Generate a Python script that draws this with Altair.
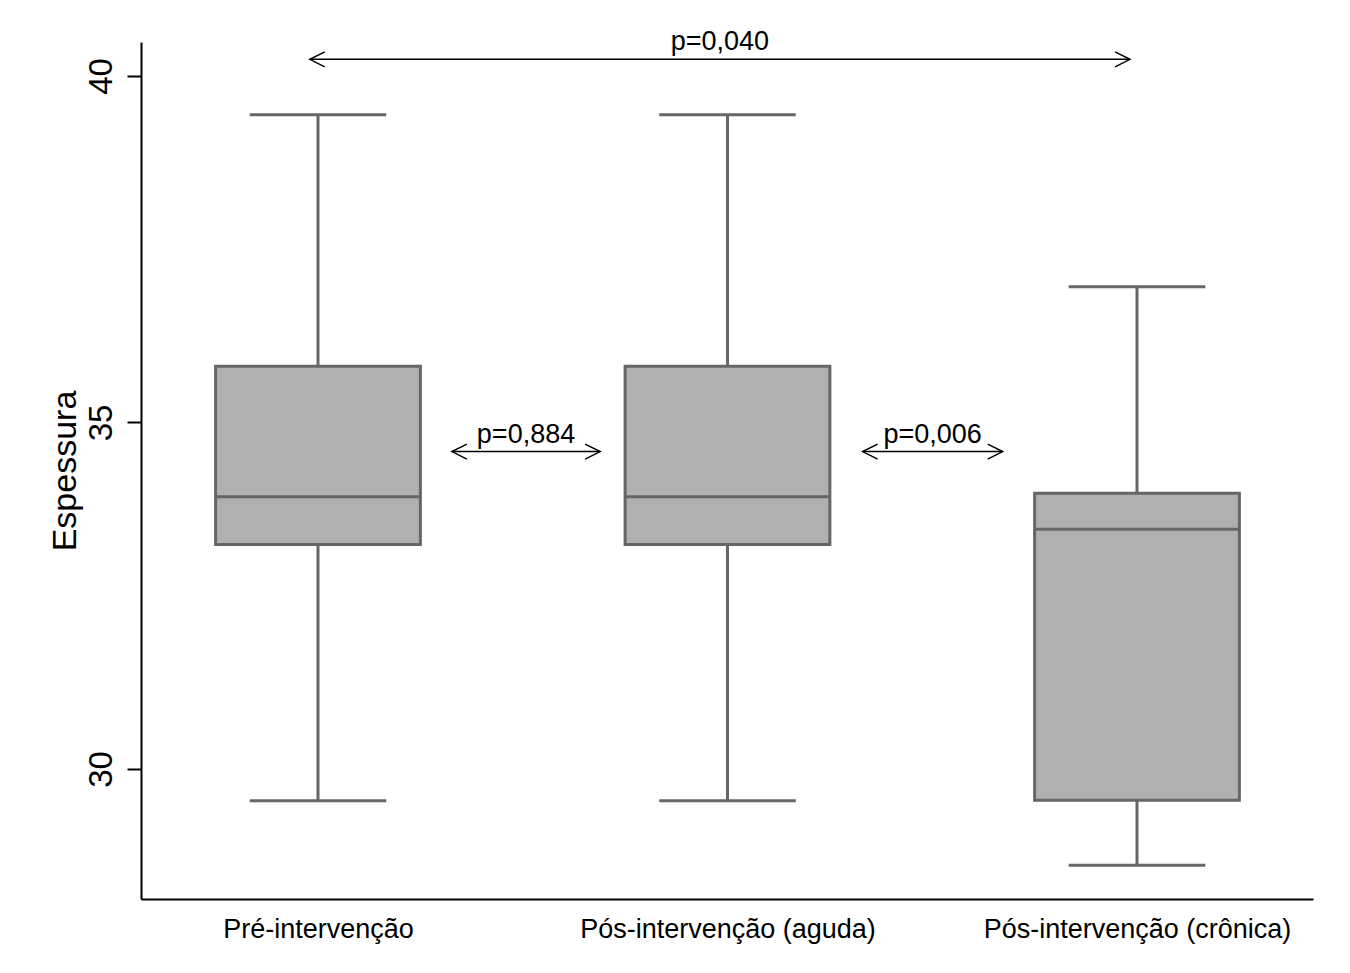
import json
import altair as alt
import pandas as pd

# ---- data ----
categories = ["Pré-intervenção", "Pós-intervenção (aguda)", "Pós-intervenção (crônica)"]
positions = [1, 2, 3]
whisker_low = [29.54, 29.54, 28.61]
q1 = [33.24, 33.24, 29.55]
median = [33.93, 33.93, 33.46]
q3 = [35.81, 35.81, 33.98]
whisker_high = [39.44, 39.44, 36.96]

comp_start = [0.98, 1.327, 2.33]
comp_end = [2.983, 1.689, 2.672]
comp_y = [40.24, 34.58, 34.58]
comp_label = ["p=0,040", "p=0,884", "p=0,006"]

y_ticks = [30, 35, 40]

# ---- styling ----
BOX_HALF = 0.25
CAP_HALF = 0.1667
FONT = "Liberation Sans"
BOX_FILL = "#b0b0b0"
BOX_STROKE = "#666666"

df = pd.DataFrame({
    "cat": categories, "pos": positions, "lo": whisker_low, "q1": q1,
    "med": median, "q3": q3, "hi": whisker_high,
})
df["bx1"] = df["pos"] - BOX_HALF
df["bx2"] = df["pos"] + BOX_HALF
df["cx1"] = df["pos"] - CAP_HALF
df["cx2"] = df["pos"] + CAP_HALF

arr = pd.DataFrame({"x1": comp_start, "x2": comp_end, "y": comp_y, "label": comp_label})
arr["mid"] = (arr["x1"] + arr["x2"]) / 2

xscale = alt.Scale(domain=[0.5678, 3.4298], nice=False, zero=False)
yscale = alt.Scale(domain=[28.124, 40.49], nice=False, zero=False)

label_js = "[" + ",".join(json.dumps(c) for c in categories) + "][datum.value - 1]"
xaxis = alt.Axis(values=positions, labelExpr=label_js, ticks=False, tickSize=0, grid=False,
                 title=None, domainColor="#000000", domainWidth=2, labelFontSize=27,
                 labelColor="#000000", labelPadding=17, labelFont=FONT, labelLimit=0)
yaxis = alt.Axis(values=y_ticks, grid=False, title="Espessura", domainColor="#000000",
                 domainWidth=2, tickColor="#000000", tickWidth=2, tickSize=14,
                 labelAngle=270, labelAlign="center", labelBaseline="alphabetic",
                 labelPadding=16, labelFontSize=33, labelColor="#000000", labelFont=FONT,
                 titleFontSize=34, titleFont=FONT, titleFontWeight="normal",
                 titleColor="#000000", titleAngle=270, titleAlign="center",
                 titleBaseline="alphabetic", titleX=-66, titleY=428.5)


def X(field):
    return alt.X(field, type="quantitative", scale=xscale, axis=xaxis)


def Y(field):
    return alt.Y(field, type="quantitative", scale=yscale, axis=yaxis)


base = alt.Chart(df)

whisk_lo = base.mark_rule(color=BOX_STROKE, strokeWidth=3).encode(x=X("pos"), y=Y("lo"), y2="q1")
whisk_hi = base.mark_rule(color=BOX_STROKE, strokeWidth=3).encode(x=X("pos"), y=Y("q3"), y2="hi")
cap_lo = base.mark_rule(color=BOX_STROKE, strokeWidth=3).encode(x=X("cx1"), x2="cx2", y=Y("lo"))
cap_hi = base.mark_rule(color=BOX_STROKE, strokeWidth=3).encode(x=X("cx1"), x2="cx2", y=Y("hi"))
box = base.mark_rect(fill=BOX_FILL, stroke=BOX_STROKE, strokeWidth=3).encode(
    x=X("bx1"), x2="bx2", y=Y("q1"), y2="q3")
med = base.mark_rule(color=BOX_STROKE, strokeWidth=3).encode(x=X("bx1"), x2="bx2", y=Y("med"))

abase = alt.Chart(arr)
shaft = abase.mark_rule(color="#000000", strokeWidth=1.5).encode(x=X("x1"), x2="x2", y=Y("y"))
head_l = abase.mark_point(shape="M 1 -0.5 L 0 0 L 1 0.5", size=900, filled=False,
                          stroke="#000000", strokeWidth=1.5, opacity=1).encode(x=X("x1"), y=Y("y"))
head_r = abase.mark_point(shape="M -1 -0.5 L 0 0 L -1 0.5", size=900, filled=False,
                          stroke="#000000", strokeWidth=1.5, opacity=1).encode(x=X("x2"), y=Y("y"))
ptext = abase.mark_text(dy=-9, baseline="alphabetic", align="center", fontSize=27,
                        font=FONT, color="#000000").encode(x=X("mid"), y=Y("y"), text="label:N")

chart = alt.layer(whisk_lo, whisk_hi, cap_lo, cap_hi, box, med, shaft, head_l, head_r, ptext).properties(
    width=1172, height=857,
    autosize=alt.AutoSizeParams(type="none"),
    padding={"left": 133, "top": 34, "right": 29, "bottom": 60},
    background="#ffffff",
).configure(font=FONT, view=alt.ViewConfig(stroke="transparent", strokeWidth=0))

chart.save("out.html", embed_options={"renderer": "svg", "actions": False})
